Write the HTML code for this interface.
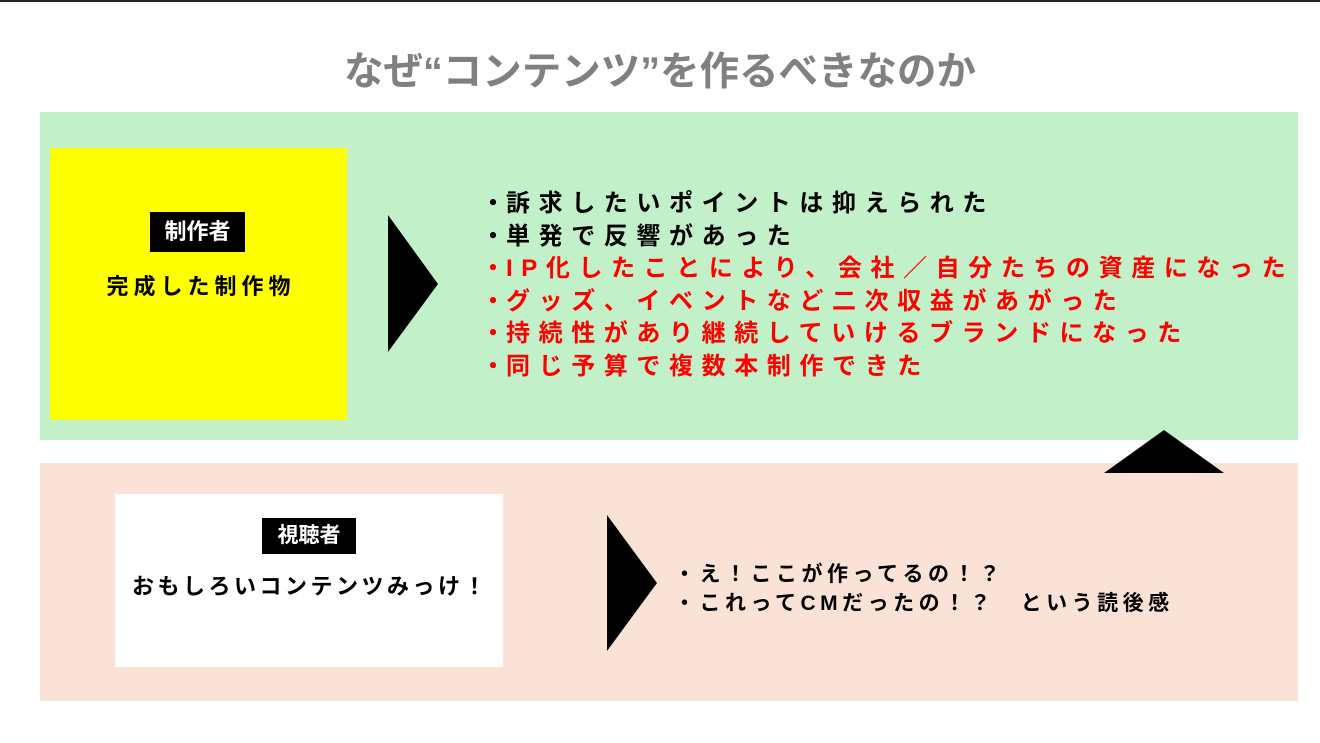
<!DOCTYPE html>
<html><head><meta charset="utf-8"><style>
body{margin:0;width:1320px;height:743px;background:#fff;position:relative;overflow:hidden;font-family:"Liberation Sans","Noto Sans CJK JP",sans-serif;font-weight:bold}
.a{position:absolute}
.t{white-space:nowrap}
.b{display:inline-block;width:26px;letter-spacing:0;text-align:center}
</style></head><body>
<div class="a" style="left:0;top:0;width:1320px;height:2px;background:#222"></div>
<div class="a t" style="left:0;width:1320px;top:46px;text-align:center;font-size:39.5px;color:#808080;line-height:52px">なぜ“コンテンツ”を作るべきなのか</div>
<div class="a" style="left:40px;top:112px;width:1258px;height:328px;background:#c2f0c8"></div>
<div class="a" style="left:50px;top:148px;width:297px;height:272px;background:#ffff00"></div>
<div class="a t" style="left:150px;top:212px;width:95px;height:40px;background:#000;color:#fff;font-size:22px;line-height:40px;text-align:center">制作者</div>
<div class="a t" style="left:50px;width:297px;top:272px;text-align:center;font-size:22px;line-height:30px;letter-spacing:5px;text-indent:5px">完成した制作物</div>
<div class="a" style="left:40px;top:463px;width:1258px;height:238px;background:#fae2d6"></div>
<svg class="a" style="left:0;top:0" width="1320" height="743">
<polygon points="388,215 388,352 438,284" fill="#000"/>
<polygon points="1104,473 1224,473 1164,430" fill="#000"/>
<polygon points="607,515 607,651 657,583" fill="#000"/>
</svg>
<div class="a" style="left:115px;top:494px;width:388px;height:173px;background:#fff"></div>
<div class="a t" style="left:262px;top:518px;width:94px;height:36px;background:#000;color:#fff;font-size:21px;line-height:36px;text-align:center">視聴者</div>
<div class="a t" style="left:115px;width:388px;top:572px;text-align:center;font-size:22px;line-height:30px;letter-spacing:3.5px;text-indent:3px">おもしろいコンテンツみっけ！</div>
<div class="a t" style="left:480px;top:188px;font-size:24px;line-height:32.6px;letter-spacing:8.6px">
<div><span class="b">・</span>訴求したいポイントは抑えられた</div>
<div><span class="b">・</span>単発で反響があった</div>
<div style="color:#f00"><span class="b">・</span>IP化したことにより、会社／自分たちの資産になった</div>
<div style="color:#f00"><span class="b">・</span>グッズ、イベントなど二次収益があがった</div>
<div style="color:#f00"><span class="b">・</span>持続性があり継続していけるブランドになった</div>
<div style="color:#f00"><span class="b">・</span>同じ予算で複数本制作できた</div>
</div>
<div class="a t" style="left:674px;top:560px;font-size:21px;line-height:29px;letter-spacing:4.5px">
<div>・え！ここが作ってるの！？</div>
<div>・これってCMだったの！？　という読後感</div>
</div>
</body></html>
